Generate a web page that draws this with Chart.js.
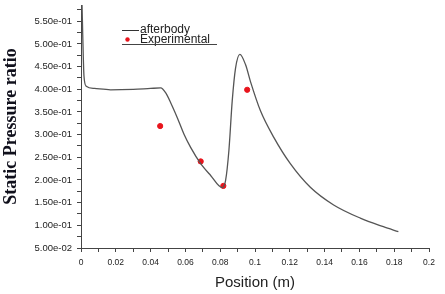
<!DOCTYPE html>
<html>
<head>
<meta charset="utf-8">
<script src="https://cdn.jsdelivr.net/npm/chart.js@4"></script>
<style>
  html, body { margin: 0; padding: 0; background: #fff; }
  #wrap { width: 445px; height: 294px; }
</style>
</head>
<body>
<div id="wrap"><canvas id="c"></canvas></div>
<script>
// afterbody static pressure ratio vs position
const positions = [0, 0.0005, 0.001, 0.0017, 0.003, 0.0077, 0.017, 0.03, 0.04, 0.0458,
  0.0487, 0.0516, 0.0554, 0.0592, 0.063, 0.0688, 0.0745, 0.0812, 0.0831, 0.085,
  0.0869, 0.0888, 0.0913, 0.0946, 0.0974, 0.1032, 0.1108, 0.1203, 0.1318, 0.1452,
  0.1605, 0.1738, 0.1824];
const afterbody = [0.64, 0.60, 0.52, 0.43, 0.407, 0.402, 0.399, 0.400, 0.402, 0.403,
  0.392, 0.370, 0.337, 0.301, 0.272, 0.236, 0.210, 0.183, 0.199, 0.265,
  0.374, 0.446, 0.477, 0.454, 0.417, 0.352, 0.294, 0.236, 0.184, 0.145,
  0.116, 0.097, 0.086];

const expPositions = [0.0455, 0.0688, 0.0818, 0.0955];
const experimental = [0.319, 0.241, 0.187, 0.399];

// tick values (majors + minors between them)
const xTicks = [0, 0.01, 0.02, 0.03, 0.04, 0.05, 0.06, 0.07, 0.08, 0.09, 0.1,
  0.11, 0.12, 0.13, 0.14, 0.15, 0.16, 0.17, 0.18, 0.19, 0.2];
const yTicks = [0.05, 0.075, 0.1, 0.125, 0.15, 0.175, 0.2, 0.225, 0.25, 0.275, 0.3,
  0.325, 0.35, 0.375, 0.4, 0.425, 0.45, 0.475, 0.5, 0.525, 0.55, 0.575];

const fmtExp = (v) => {
  const [m, e] = v.toExponential(2).split("e");
  const n = Math.abs(parseInt(e, 10));
  return m + "e" + (e[0] === "-" ? "-" : "+") + String(n).padStart(2, "0");
};

// legend drawn inside plot, underlined like the original
const legendPlugin = {
  id: "innerLegend",
  afterDraw(chart) {
    const ctx = chart.ctx;
    ctx.save();
    ctx.font = "12px 'Liberation Sans', Arial, sans-serif";
    ctx.fillStyle = "#222";
    ctx.textBaseline = "middle";
    ctx.strokeStyle = "#333";
    ctx.lineWidth = 1;
    ctx.beginPath();
    ctx.moveTo(122, 30.5);
    ctx.lineTo(139, 30.5);
    ctx.stroke();
    ctx.fillText("afterbody", 140, 29.5);
    ctx.fillStyle = "#e8141c";
    ctx.beginPath();
    ctx.arc(127.5, 39.5, 2.2, 0, Math.PI * 2);
    ctx.fill();
    ctx.fillStyle = "#222";
    ctx.fillText("Experimental", 140, 39.5);
    ctx.strokeStyle = "#444";
    ctx.beginPath();
    ctx.moveTo(122, 44.5);
    ctx.lineTo(217, 44.5);
    ctx.stroke();
    ctx.restore();
  },
};

new Chart(document.getElementById("c"), {
  type: "line",
  data: {
    datasets: [
      {
        label: "afterbody",
        data: positions.map((x, i) => ({ x, y: afterbody[i] })),
        borderColor: "#555",
        borderWidth: 1.3,
        pointRadius: 0,
        cubicInterpolationMode: "monotone",
        fill: false,
      },
      {
        type: "scatter",
        label: "Experimental",
        data: expPositions.map((x, i) => ({ x, y: experimental[i] })),
        backgroundColor: "#e8141c",
        borderColor: "#e8141c",
        pointRadius: 2.6,
        showLine: false,
      },
    ],
  },
  options: {
    responsive: true,
    maintainAspectRatio: false,
    animation: false,
    layout: { padding: { top: 0, right: 16, left: 0, bottom: 0 } },
    plugins: {
      legend: { display: false },
      tooltip: { enabled: false },
    },
    scales: {
      x: {
        type: "linear",
        min: 0,
        max: 0.2,
        afterBuildTicks: (s) => { s.ticks = xTicks.map((v) => ({ value: v })); },
        afterFit: (s) => { s.height = 46; },
        grid: { drawOnChartArea: false, drawTicks: true, tickLength: 4, tickColor: "#444" },
        border: { display: true, color: "#444", width: 1 },
        ticks: {
          autoSkip: false,
          maxRotation: 0,
          padding: 6,
          color: "#222",
          font: { family: "'Liberation Sans', Arial, sans-serif", size: 8.5 },
          callback: (v, i) => (i % 2 === 0 ? String(Number(v.toFixed(2))) : ""),
        },
        title: {
          display: true,
          text: "Position (m)",
          color: "#222",
          font: { family: "'Liberation Sans', Arial, sans-serif", size: 15 },
          padding: { top: 0, bottom: 2 },
        },
      },
      y: {
        type: "linear",
        min: 0.05,
        max: 0.586,
        afterBuildTicks: (s) => { s.ticks = yTicks.map((v) => ({ value: v })); },
        afterFit: (s) => { s.width = 81; s.paddingTop = 0; s.paddingBottom = 0; },
        grid: { drawOnChartArea: false, drawTicks: true, tickLength: 4, tickColor: "#444" },
        border: { display: true, color: "#444", width: 1 },
        ticks: {
          autoSkip: false,
          padding: 5,
          color: "#222",
          font: { family: "'Liberation Sans', Arial, sans-serif", size: 9.5 },
          callback: (v, i) => (i % 2 === 0 ? fmtExp(v) : ""),
        },
        title: {
          display: true,
          text: "Static Pressure ratio",
          color: "#10101c",
          font: { family: "'Liberation Serif', 'Times New Roman', serif", size: 18, weight: "bold" },
          padding: { top: 1, bottom: 0 },
        },
      },
    },
  },
  plugins: [legendPlugin],
});
</script>
</body>
</html>
